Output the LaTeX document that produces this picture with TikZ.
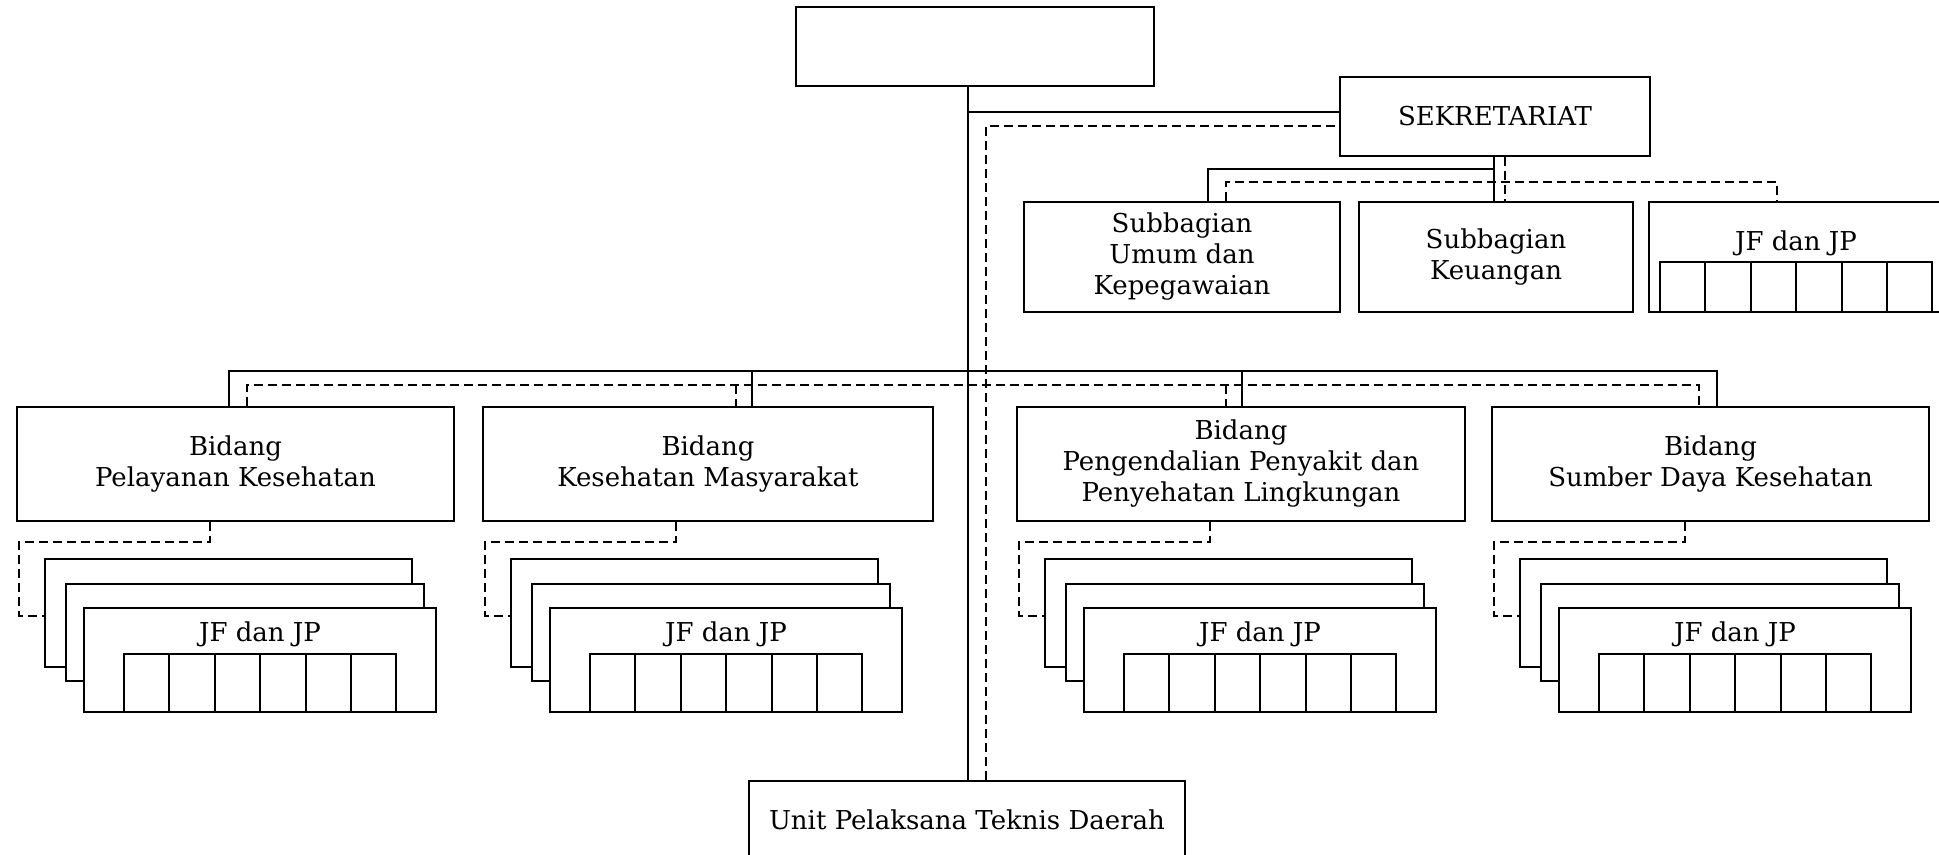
\documentclass[tikz,border=0pt]{standalone}
\usepackage{fontspec}
\setmainfont{DejaVu Serif}
\usetikzlibrary{fit,calc}
\tikzset{
  box/.style={draw, line width=1pt, inner sep=0pt, fill=white},
  lbl/.style={font=\fontsize{13}{15.5}\selectfont, align=center, inner sep=0pt, anchor=center},
  conn/.style={line width=1pt},
  dconn/.style={line width=1pt, dash pattern=on 4.5pt off 2.5pt},
}
\newcommand\jfstack[3]{% #1 = left x of Bidang box, #2 = stack name, #3 = Bidang node
  \node[box, fit={({#1+28},559) ({#1+395},667)}] (#2a) {};
  \node[box, fit={({#1+49},584) ({#1+407},681)}] (#2b) {};
  \node[box, fit={({#1+67},608) ({#1+419},712)}] (#2c) {};
  \node[lbl] (#2t) at ({#1+243},634) {JF dan JP};
  \foreach \k in {0,...,5} \draw[conn] ({#1+107+\k*45.4},654) rectangle ++(45.4,58);
  \coordinate (#2x) at ({#1+193},0);
  \coordinate (#2p) at ({#1+2},542);
  \coordinate (#2q) at ({#1+2},616);
  \draw[dconn] (#3.south -| #2x) |- (#2p) -- (#2q) -- (#2q -| #2a.west);
}
\begin{document}
\begin{tikzpicture}[x=0.5pt,y=-0.5pt]
\useasboundingbox (0,0) rectangle (1939,855);
\clip (0,0) rectangle (1939,855);
\fill[white] (0,0) rectangle (1939,855);

% main boxes
\node[box, fit={(796,7) (1154,86)}] (top) {};
\node[box, fit={(1340,77) (1650,156)}] (sek) {};
\node[lbl] (sekt) at (sek.center) {SEKRETARIAT};
\node[box, fit={(1024,202) (1340,312)}] (umum) {};
\node[lbl] (umumt) at (umum.center) {Subbagian\\Umum dan\\Kepegawaian};
\node[box, fit={(1359,202) (1633,312)}] (keu) {};
\node[lbl] (keut) at (keu.center) {Subbagian\\Keuangan};
\node[box, fit={(1649,202) (1942,312)}] (jf) {};
\node[lbl] (jft) at (1796,243) {JF dan JP};
\foreach \k in {0,...,5} \draw[conn] ({1660+\k*45.4},262) rectangle ++(45.4,50);

\node[box, fit={(17,407) (454,521)}] (b1) {};
\node[lbl] (b1t) at (b1.center) {Bidang\\Pelayanan Kesehatan};
\node[box, fit={(483,407) (933,521)}] (b2) {};
\node[lbl] (b2t) at (b2.center) {Bidang\\Kesehatan Masyarakat};
\node[box, fit={(1017,407) (1465,521)}] (b3) {};
\node[lbl] (b3t) at (b3.center) {Bidang\\Pengendalian Penyakit dan\\Penyehatan Lingkungan};
\node[box, fit={(1492,407) (1929,521)}] (b4) {};
\node[lbl] (b4t) at (b4.center) {Bidang\\Sumber Daya Kesehatan};

\node[box, fit={(749,781) (1185,880)}] (upt) {};
\node[lbl] (uptt) at (967,820) {Unit Pelaksana Teknis Daerah};

% stacks
\jfstack{17}{s1}{b1}
\jfstack{483}{s2}{b2}
\jfstack{1017}{s3}{b3}
\jfstack{1492}{s4}{b4}

% trunk
\coordinate (tx) at (968,0);
\coordinate (sj) at (968,112);
\coordinate (dj) at (986,126);
\draw[conn] (top.south -| tx) -- (upt.north -| tx);
\draw[conn] (sj) -- (sj -| sek.west);
\draw[dconn] (upt.north -| dj) -- (dj) -- (dj -| sek.west);

% sekretariat branches
\coordinate (ks) at (1494,0);
\coordinate (kd) at (1505,0);
\coordinate (uj) at (1494,169);
\coordinate (us) at (1208,0);
\coordinate (dl) at (1226,182);
\coordinate (dr) at (1777,182);
\draw[conn] (sek.south -| ks) -- (keu.north -| ks);
\draw[dconn] (sek.south -| kd) -- (keu.north -| kd);
\draw[conn] (uj) -| (umum.north -| us);
\draw[dconn] (umum.north -| dl) -- (dl) -- (dr) -- (jf.north -| dr);

% bidang bus
\coordinate (bs1) at (229,371);
\coordinate (bs2) at (752,371);
\coordinate (bs3) at (1242,371);
\coordinate (bs4) at (1717,371);
\coordinate (bd1) at (247,385);
\coordinate (bd2) at (736,385);
\coordinate (bd3) at (1226,385);
\coordinate (bd4) at (1699,385);
\draw[conn] (b1.north -| bs1) -- (bs1) -- (bs4) -- (b4.north -| bs4);
\draw[conn] (bs2) -- (b2.north -| bs2);
\draw[conn] (bs3) -- (b3.north -| bs3);
\draw[dconn] (b1.north -| bd1) -- (bd1) -- (bd4) -- (b4.north -| bd4);
\draw[dconn] (bd2) -- (b2.north -| bd2);
\draw[dconn] (bd3) -- (b3.north -| bd3);
\end{tikzpicture}
\end{document}
